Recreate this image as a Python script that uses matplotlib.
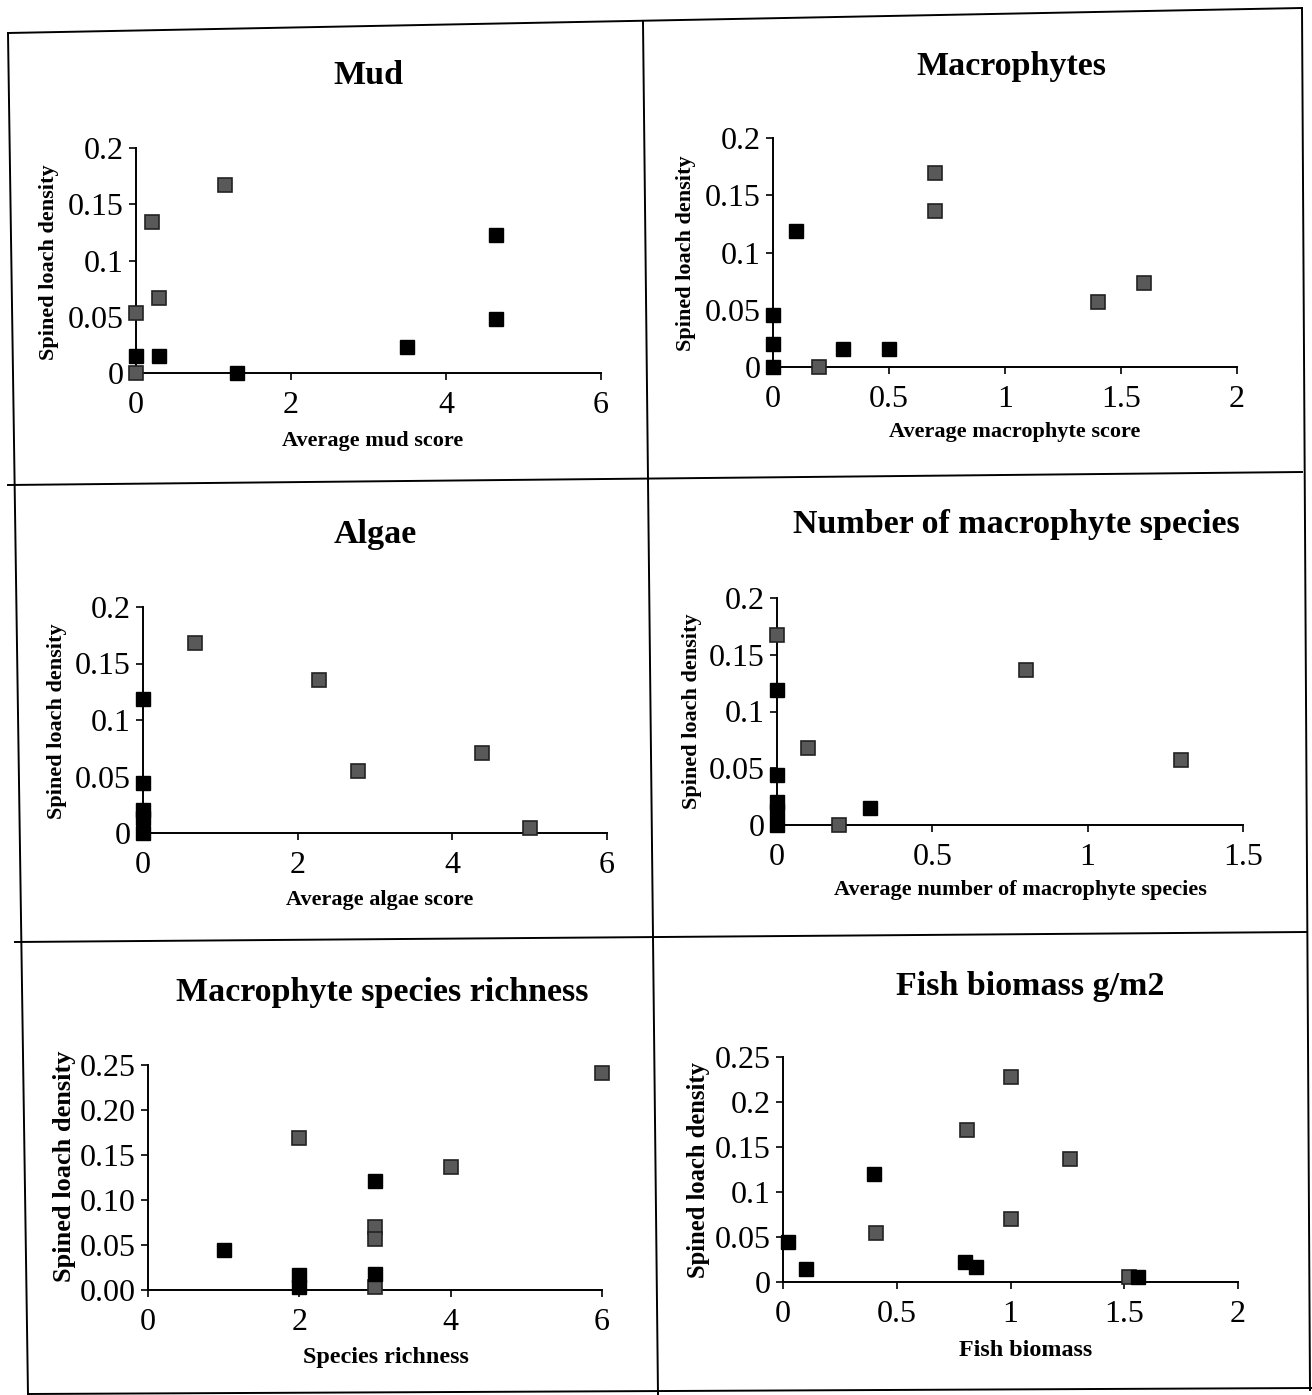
import matplotlib.pyplot as plt
from matplotlib.lines import Line2D

W, H = 1312, 1395

# ---- data ----
# grey = patterned squares, black = solid squares
mud_grey_x = [0.0, 0.2, 0.3, 1.15, 0.0]
mud_grey_y = [0.053, 0.134, 0.067, 0.167, 0.0]
mud_black_x = [0.0, 0.3, 1.3, 3.5, 4.65, 4.65]
mud_black_y = [0.015, 0.015, 0.0, 0.023, 0.123, 0.048]

mac_grey_x = [0.2, 0.7, 0.7, 1.4, 1.6]
mac_grey_y = [0.0, 0.169, 0.136, 0.057, 0.073]
mac_black_x = [0.0, 0.0, 0.0, 0.1, 0.3, 0.5]
mac_black_y = [0.0, 0.020, 0.045, 0.119, 0.016, 0.016]

alg_grey_x = [0.67, 2.28, 2.78, 4.38, 5.0]
alg_grey_y = [0.168, 0.135, 0.055, 0.071, 0.004]
alg_black_x = [0.0, 0.0, 0.0, 0.0, 0.0]
alg_black_y = [0.0, 0.013, 0.020, 0.044, 0.119]

nsp_grey_x = [0.0, 0.1, 0.2, 0.8, 1.3]
nsp_grey_y = [0.167, 0.068, 0.0, 0.137, 0.057]
nsp_black_x = [0.0, 0.0, 0.0, 0.0, 0.0, 0.3]
nsp_black_y = [0.0, 0.012, 0.020, 0.044, 0.119, 0.015]

ric_grey_x = [2, 3, 3, 3, 4, 6]
ric_grey_y = [0.169, 0.070, 0.057, 0.003, 0.137, 0.241]
ric_black_x = [1, 2, 2, 3, 3]
ric_black_y = [0.045, 0.017, 0.003, 0.121, 0.018]

fish_grey_x = [0.41, 0.81, 1.0, 1.0, 1.26, 1.52]
fish_grey_y = [0.054, 0.169, 0.228, 0.070, 0.137, 0.006]
fish_black_x = [0.02, 0.1, 0.4, 0.8, 0.85, 1.56]
fish_black_y = [0.044, 0.014, 0.120, 0.022, 0.017, 0.006]

yticks_20 = [0, 0.05, 0.1, 0.15, 0.2]
ylabels_20 = ["0", "0.05", "0.1", "0.15", "0.2"]
yticks_25 = [0, 0.05, 0.1, 0.15, 0.2, 0.25]
ylabels_25_fixed = ["0.00", "0.05", "0.10", "0.15", "0.20", "0.25"]
ylabels_25 = ["0", "0.05", "0.1", "0.15", "0.2", "0.25"]
xticks_6 = [0, 2, 4, 6]
xlabels_6 = ["0", "2", "4", "6"]
xticks_2 = [0, 0.5, 1, 1.5, 2]
xlabels_2 = ["0", "0.5", "1", "1.5", "2"]
xticks_15 = [0, 0.5, 1, 1.5]
xlabels_15 = ["0", "0.5", "1", "1.5"]

SERIF = ["Liberation Serif", "DejaVu Serif"]
plt.rcParams["font.family"] = SERIF

fig = plt.figure(figsize=(W / 100, H / 100), dpi=100)


def fx(x):
    return x / W


def fy(y):
    return 1 - y / H


def panel(box, xlim, ylim, xt, xtl, yt, ytl, gx, gy, bx, by,
          title, tpos, xlab, xpos, ylab, ypos, lab_size=16, ylab_size=16):
    x0, x1, ytop, ybot = box
    ax = fig.add_axes([fx(x0), fy(ybot), (x1 - x0) / W, (ybot - ytop) / H])
    ax.set_xlim(*xlim)
    ax.set_ylim(*ylim)
    for s in ["top", "right"]:
        ax.spines[s].set_visible(False)
    for s in ["left", "bottom"]:
        ax.spines[s].set_linewidth(1.4)
    ax.set_xticks(xt)
    ax.set_xticklabels(xtl)
    ax.set_yticks(yt)
    ax.set_yticklabels(ytl)
    ax.tick_params(axis="both", direction="out", length=5, width=1.2, labelsize=23)
    ax.tick_params(axis="x", pad=8)
    ax.tick_params(axis="y", pad=4)
    ax.patch.set_alpha(0)

    ax.plot(gx, gy, "s", ms=10.5, mfc="#595959", mec="#222222", mew=1.2, clip_on=False, zorder=3)
    ax.plot(bx, by, "s", ms=10.5, mfc="black", mec="black", mew=1.0, clip_on=False, zorder=4)

    fig.text(fx(tpos[0]), fy(tpos[1]), title, ha="center", va="center",
             fontsize=24.5, fontweight="bold")
    fig.text(fx(xpos[0]), fy(xpos[1]), xlab, ha="center", va="center",
             fontsize=lab_size, fontweight="bold")
    fig.text(fx(ypos[0]), fy(ypos[1]), ylab, ha="center", va="center",
             fontsize=ylab_size, fontweight="bold", rotation=90)
    return ax


YL = "Spined loach density"

panel((136, 601, 148, 373), (0, 6), (0, 0.2), xticks_6, xlabels_6, yticks_20, ylabels_20,
      mud_grey_x, mud_grey_y, mud_black_x, mud_black_y,
      "Mud", (368, 76), "Average mud score", (373, 441), YL, (49, 262))

panel((773, 1237, 138, 367), (0, 2), (0, 0.2), xticks_2, xlabels_2, yticks_20, ylabels_20,
      mac_grey_x, mac_grey_y, mac_black_x, mac_black_y,
      "Macrophytes", (1011, 66), "Average macrophyte score", (1015, 432), YL, (686, 253))

panel((143, 607, 607, 833), (0, 6), (0, 0.2), xticks_6, xlabels_6, yticks_20, ylabels_20,
      alg_grey_x, alg_grey_y, alg_black_x, alg_black_y,
      "Algae", (375, 535), "Average algae score", (380, 900), YL, (57, 721))

panel((777, 1243, 598, 825), (0, 1.5), (0, 0.2), xticks_15, xlabels_15, yticks_20, ylabels_20,
      nsp_grey_x, nsp_grey_y, nsp_black_x, nsp_black_y,
      "Number of macrophyte species", (1016, 525),
      "Average number of macrophyte species", (1020, 890), YL, (692, 711))

panel((148, 602, 1065, 1290), (0, 6), (0, 0.25), xticks_6, xlabels_6, yticks_25, ylabels_25_fixed,
      ric_grey_x, ric_grey_y, ric_black_x, ric_black_y,
      "Macrophyte species richness", (382, 993), "Species richness", (386, 1358), YL, (65, 1166),
      lab_size=17.4, ylab_size=19)

panel((783, 1238, 1057, 1282), (0, 2), (0, 0.25), xticks_2, xlabels_2, yticks_25, ylabels_25,
      fish_grey_x, fish_grey_y, fish_black_x, fish_black_y,
      "Fish biomass g/m2", (1030, 987), "Fish biomass", (1026, 1350), YL, (698, 1170),
      lab_size=17.4, ylab_size=17.7)

# panel frame lines of the scanned page (slightly skewed)
frame = [
    ((8, 33), (1302, 8)),      # top
    ((8, 33), (28, 1395)),     # left
    ((1302, 8), (1310, 1390)), # right
    ((28, 1394), (1312, 1388)),  # bottom
    ((643, 22), (658, 1395)),  # middle vertical
    ((8, 485), (1302, 472)),   # first horizontal
    ((15, 942), (1306, 932)),  # second horizontal
]
for (xa, ya), (xb, yb) in frame:
    fig.add_artist(Line2D([fx(xa), fx(xb)], [fy(ya), fy(yb)], color="black", lw=1.4,
                          transform=fig.transFigure))

fig.savefig("out.png", dpi=100, facecolor="white")
